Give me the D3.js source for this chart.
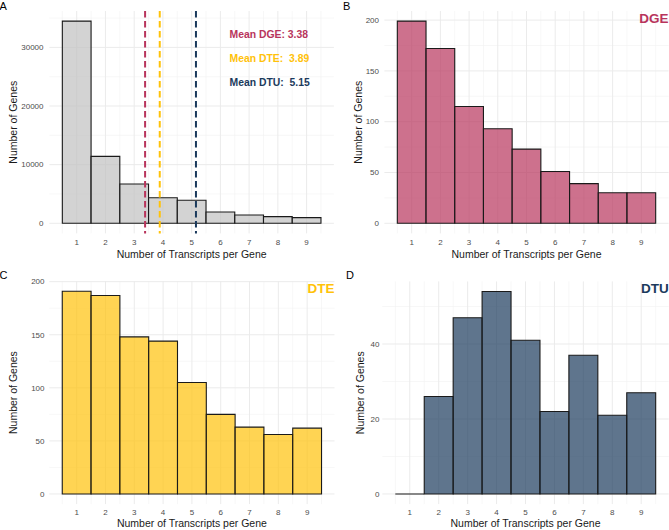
<!DOCTYPE html>
<meta charset="utf-8">
<script src="https://d3js.org/d3.v7.min.js"></script>
<style>
body { margin: 0; background: #fff; }
text { font-family: "Liberation Sans", Arial, sans-serif; }
.tick-label { font-size: 8px; fill: #4d4d4d; }
.axis-title { font-size: 10.5px; fill: #1a1a1a; }
.panel-tag { font-size: 11px; fill: #000; }
</style>
<body>
<script>

// transcripts per gene (1..9)
var transcripts = [1, 2, 3, 4, 5, 6, 7, 8, 9];

// counts
var allGenes = [34480, 11420, 6700, 4360, 3920, 1930, 1410, 1130, 960];
var dgeGenes = [199, 172, 115, 93, 73, 51, 39, 30, 30];
var dteGenes = [191, 187, 148, 144, 105, 75, 63, 56, 62];
var dtuGenes = [0, 26, 47, 54, 41, 22, 37, 21, 27];

var meanNames = ["DGE", "DTE", "DTU"];
var meanValues = [3.38, 3.89, 5.15];
var meanLabels = ["Mean DGE: 3.38", "Mean DTE:  3.89", "Mean DTU:  5.15"];

var colors = { DGE: "#b8345c", DTE: "#ffc20a", DTU: "#1b3a5c", all: "#c0c0c0" };

var width = 669, height = 530;

var svg = d3.select("body").append("svg")
    .attr("width", width)
    .attr("height", height);

// one histogram panel
function drawPanel(opt) {
  var g = svg.append("g").attr("transform", "translate(" + opt.ox + "," + opt.oy + ")");
  var ymax = d3.max(opt.values);

  var x = d3.scaleLinear().domain([0.05, 9.95]).range([opt.left, opt.right]);
  var y = d3.scaleLinear().domain([-0.05 * ymax, 1.05 * ymax]).range([opt.bottom, opt.top]);

  // minor grid
  var minorX = d3.range(0.5, 10, 1);
  var minorY = opt.ticks.slice(0, -1).map(function(t, i) { return (t + opt.ticks[i + 1]) / 2; });
  minorY.push(opt.ticks[opt.ticks.length - 1] + (opt.ticks[1] - opt.ticks[0]) / 2);
  minorY = minorY.filter(function(v) { return v <= 1.05 * ymax; });

  g.selectAll(".minx").data(minorX).enter().append("line")
      .attr("x1", d => x(d)).attr("x2", d => x(d))
      .attr("y1", opt.top).attr("y2", opt.bottom)
      .attr("stroke", "#f2f2f2").attr("stroke-width", 0.6);
  g.selectAll(".miny").data(minorY).enter().append("line")
      .attr("y1", d => y(d)).attr("y2", d => y(d))
      .attr("x1", opt.left).attr("x2", opt.right)
      .attr("stroke", "#f2f2f2").attr("stroke-width", 0.6);

  // major grid
  g.selectAll(".majx").data(transcripts).enter().append("line")
      .attr("x1", d => x(d)).attr("x2", d => x(d))
      .attr("y1", opt.top).attr("y2", opt.bottom)
      .attr("stroke", "#ebebeb").attr("stroke-width", 1);
  g.selectAll(".majy").data(opt.ticks).enter().append("line")
      .attr("y1", d => y(d)).attr("y2", d => y(d))
      .attr("x1", opt.left).attr("x2", opt.right)
      .attr("stroke", "#ebebeb").attr("stroke-width", 1);

  // bars (paths so a zero count still shows its outline)
  g.selectAll(".bar").data(opt.values).enter().append("path")
      .attr("d", function(d, i) {
        var x0 = x(transcripts[i] - 0.5), x1 = x(transcripts[i] + 0.5);
        return "M" + x0 + "," + y(0) + "V" + y(d) + "H" + x1 + "V" + y(0) + "Z";
      })
      .attr("fill", opt.fill)
      .attr("fill-opacity", 0.7)
      .attr("stroke", "#1a1a1a")
      .attr("stroke-width", 1.1);

  // tick labels
  g.selectAll(".xt").data(transcripts).enter().append("text")
      .attr("class", "tick-label")
      .attr("x", d => x(d)).attr("y", opt.xTickY)
      .attr("text-anchor", "middle")
      .text(d => d);
  g.selectAll(".yt").data(opt.ticks).enter().append("text")
      .attr("class", "tick-label")
      .attr("x", opt.yTickX).attr("y", d => y(d))
      .attr("dy", "0.35em")
      .attr("text-anchor", "end")
      .text(d => d);

  // axis titles
  g.append("text").attr("class", "axis-title")
      .attr("x", (opt.left + opt.right) / 2).attr("y", opt.xTitleY)
      .attr("text-anchor", "middle")
      .text("Number of Transcripts per Gene");
  g.append("text").attr("class", "axis-title")
      .attr("transform", "translate(" + opt.yTitleX + "," + (opt.top + opt.bottom) / 2 + ") rotate(-90)")
      .attr("dy", "0.35em")
      .attr("text-anchor", "middle")
      .text("Number of Genes");

  // panel tag
  g.append("text").attr("class", "panel-tag")
      .attr("x", opt.tagX).attr("y", opt.tagY)
      .text(opt.tag);

  // category label top right
  if (opt.name) {
    g.append("text")
        .attr("x", opt.right).attr("y", opt.top + 12)
        .attr("text-anchor", "end")
        .style("font-size", "13.5px").style("font-weight", "bold")
        .attr("fill", opt.fill)
        .text(opt.name);
  }

  return { g: g, x: x, y: y };
}

var pA = drawPanel({ ox: 0, oy: 0, left: 49.4, right: 333.9, top: 11, bottom: 233.4,
  values: allGenes, ticks: [0, 10000, 20000, 30000], fill: colors.all,
  xTickY: 244.5, xTitleY: 258, yTickX: 43.5, yTitleX: 13, tag: "A", tagX: -0.5, tagY: 9.5 });

drawPanel({ ox: 335, oy: 0, left: 49.4, right: 333.6, top: 11, bottom: 233.4,
  values: dgeGenes, ticks: [0, 50, 100, 150, 200], fill: colors.DGE, name: "DGE",
  xTickY: 244.5, xTitleY: 258, yTickX: 44, yTitleX: 23, tag: "B", tagX: 8, tagY: 9.5 });

drawPanel({ ox: 0, oy: 265, left: 49.3, right: 334.5, top: 16.1, bottom: 239.1,
  values: dteGenes, ticks: [0, 50, 100, 150, 200], fill: colors.DTE, name: "DTE",
  xTickY: 250, xTitleY: 261.5, yTickX: 44.5, yTitleX: 13, tag: "C", tagX: -0.5, tagY: 13.5 });

drawPanel({ ox: 335, oy: 265, left: 47.3, right: 333.7, top: 16.4, bottom: 239.1,
  values: dtuGenes, ticks: [0, 20, 40], fill: colors.DTU, name: "DTU",
  xTickY: 250, xTitleY: 261.5, yTickX: 44.5, yTitleX: 25, tag: "D", tagX: 11, tagY: 14 });

// mean lines on panel A
pA.g.selectAll(".mean").data(meanValues).enter().append("line")
    .attr("x1", d => pA.x(d)).attr("x2", d => pA.x(d))
    .attr("y1", 11).attr("y2", 233.4)
    .attr("stroke", (d, i) => colors[meanNames[i]])
    .attr("stroke-width", 2)
    .attr("stroke-dasharray", "6.5,3.5");

pA.g.selectAll(".meanlab").data(meanLabels).enter().append("text")
    .attr("x", 229.5).attr("y", (d, i) => 38 + i * 24.2)
    .style("font-size", "10.4px").style("font-weight", "bold")
    .style("white-space", "pre")
    .attr("fill", (d, i) => colors[meanNames[i]])
    .text(d => d);

</script>
</body>
